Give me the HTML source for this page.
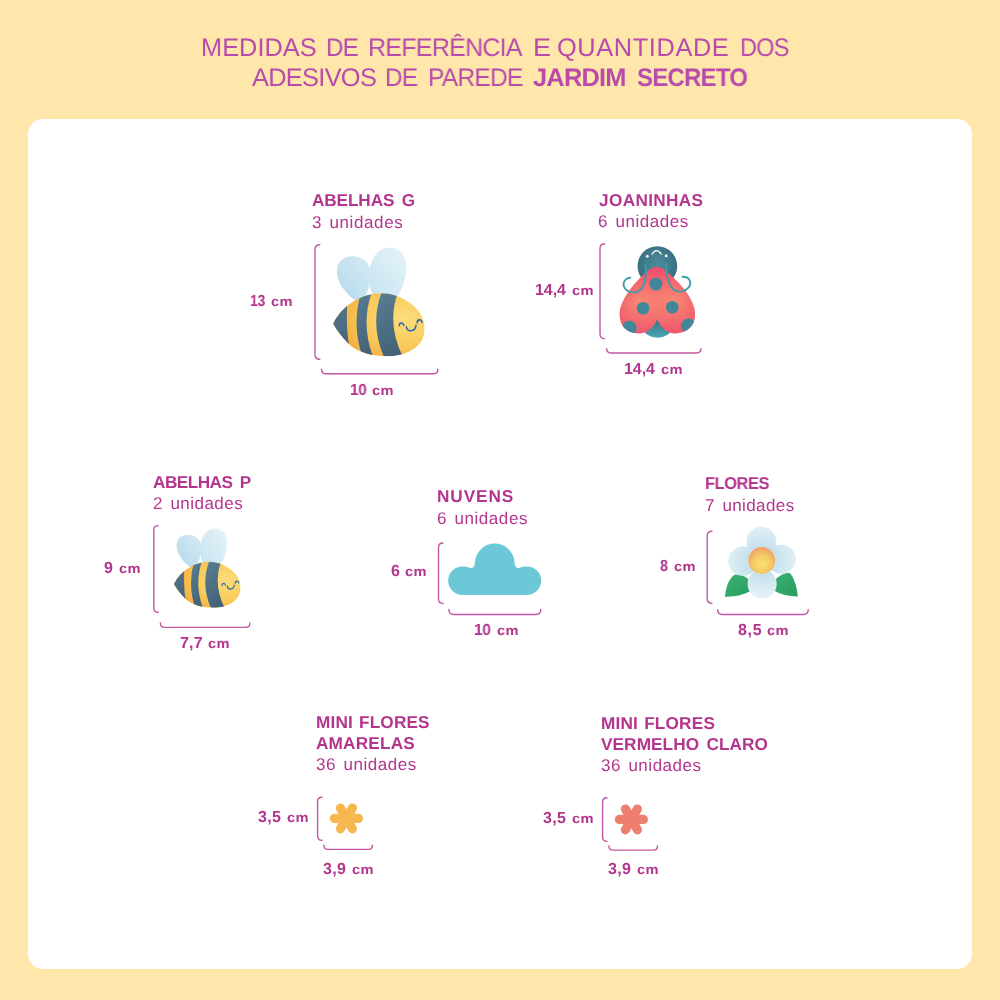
<!DOCTYPE html>
<html lang="pt-BR"><head><meta charset="utf-8"><title>Medidas de referência – Jardim Secreto</title>
<style>
html,body{margin:0;padding:0}
body{width:1000px;height:1000px;background:#FFE7AB;position:relative;overflow:hidden;font-family:"Liberation Sans",sans-serif}
.card{position:absolute;left:28px;top:119px;width:944px;height:850px;background:#fff;border-radius:15px}
.t{position:absolute;white-space:nowrap;margin:0;transform-origin:0 0;text-rendering:geometricPrecision;will-change:transform}
svg{position:absolute;overflow:visible}
</style></head><body>
<div class="card"></div>
<div class="t" style="left:201.02px;top:33.00px;font-size:25.4px;line-height:30px;font-weight:400;letter-spacing:-0.013px;word-spacing:0.000px;color:#B84BAB">MEDIDAS</div>
<div class="t" style="left:325.51px;top:33.00px;font-size:25.4px;line-height:30px;font-weight:400;letter-spacing:-0.762px;word-spacing:0.000px;transform:scaleX(0.9532);color:#B84BAB">DE</div>
<div class="t" style="left:368.04px;top:33.00px;font-size:25.4px;line-height:30px;font-weight:400;letter-spacing:-0.762px;word-spacing:0.000px;transform:scaleX(0.9859);color:#B84BAB">REFERÊNCIA</div>
<div class="t" style="left:532.69px;top:33.00px;font-size:25.4px;line-height:30px;font-weight:400;letter-spacing:0.000px;word-spacing:0.000px;transform:scaleX(1.0655);color:#B84BAB">E</div>
<div class="t" style="left:557.21px;top:33.00px;font-size:25.4px;line-height:30px;font-weight:400;letter-spacing:0.592px;word-spacing:0.000px;color:#B84BAB">QUANTIDADE</div>
<div class="t" style="left:739.66px;top:33.00px;font-size:25.4px;line-height:30px;font-weight:400;letter-spacing:-0.762px;word-spacing:0.000px;transform:scaleX(0.9254);color:#B84BAB">DOS</div>
<div class="t" style="left:251.60px;top:63.00px;font-size:25.4px;line-height:30px;font-weight:400;letter-spacing:-0.714px;word-spacing:0.000px;color:#B84BAB">ADESIVOS</div>
<div class="t" style="left:385.30px;top:63.00px;font-size:25.4px;line-height:30px;font-weight:400;letter-spacing:-0.762px;word-spacing:0.000px;transform:scaleX(0.9596);color:#B84BAB">DE</div>
<div class="t" style="left:428.08px;top:63.00px;font-size:25.4px;line-height:30px;font-weight:400;letter-spacing:-0.762px;word-spacing:0.000px;transform:scaleX(0.9655);color:#B84BAB">PAREDE</div>
<div class="t" style="left:533.40px;top:63.00px;font-size:25.4px;line-height:30px;font-weight:700;letter-spacing:-0.762px;word-spacing:0.000px;color:#B84BAB">JARDIM</div>
<div class="t" style="left:637.23px;top:63.00px;font-size:25.4px;line-height:30px;font-weight:700;letter-spacing:-0.762px;word-spacing:0.000px;transform:scaleX(0.9421);color:#B84BAB">SECRETO</div>
<div class="t" style="left:311.93px;top:190.00px;font-size:17.2px;line-height:21px;font-weight:700;letter-spacing:-0.106px;word-spacing:2.843px;color:#B3358E">ABELHAS G</div>
<div class="t" style="left:311.87px;top:213.00px;font-size:17.0px;line-height:20px;font-weight:400;letter-spacing:0.622px;word-spacing:1.981px;color:#B3358E">3 unidades</div>
<div class="t" style="left:250.12px;top:292.00px;font-size:16.0px;line-height:19px;font-weight:700;letter-spacing:-0.480px;word-spacing:0.000px;transform:scaleX(0.8795);color:#B3358E">13</div>
<div class="t" style="left:271.34px;top:294.00px;font-size:13.5px;line-height:16px;font-weight:700;letter-spacing:0.350px;word-spacing:0.000px;transform:scaleX(1.0851);color:#B3358E">cm</div>
<div class="t" style="left:349.94px;top:381.00px;font-size:16.0px;line-height:19px;font-weight:700;letter-spacing:-0.480px;word-spacing:0.000px;transform:scaleX(0.9637);color:#B3358E">10</div>
<div class="t" style="left:372.34px;top:383.00px;font-size:13.5px;line-height:16px;font-weight:700;letter-spacing:0.350px;word-spacing:0.000px;transform:scaleX(1.0851);color:#B3358E">cm</div>
<div class="t" style="left:598.80px;top:190.00px;font-size:17.2px;line-height:21px;font-weight:700;letter-spacing:0.356px;word-spacing:0.000px;color:#B3358E">JOANINHAS</div>
<div class="t" style="left:598.00px;top:212.00px;font-size:17.0px;line-height:20px;font-weight:400;letter-spacing:0.560px;word-spacing:2.105px;color:#B3358E">6 unidades</div>
<div class="t" style="left:535.00px;top:281.00px;font-size:16.0px;line-height:19px;font-weight:700;letter-spacing:-0.081px;word-spacing:0.000px;color:#B3358E">14,4</div>
<div class="t" style="left:572.34px;top:283.00px;font-size:13.5px;line-height:16px;font-weight:700;letter-spacing:0.350px;word-spacing:0.000px;transform:scaleX(1.0851);color:#B3358E">cm</div>
<div class="t" style="left:624.00px;top:360.00px;font-size:16.0px;line-height:19px;font-weight:700;letter-spacing:-0.081px;word-spacing:0.000px;color:#B3358E">14,4</div>
<div class="t" style="left:661.34px;top:362.00px;font-size:13.5px;line-height:16px;font-weight:700;letter-spacing:0.350px;word-spacing:0.000px;transform:scaleX(1.0851);color:#B3358E">cm</div>
<div class="t" style="left:153.33px;top:472.00px;font-size:17.2px;line-height:21px;font-weight:700;letter-spacing:-0.516px;word-spacing:3.125px;transform:scaleX(0.9973);color:#B3358E">ABELHAS P</div>
<div class="t" style="left:152.80px;top:494.00px;font-size:17.0px;line-height:20px;font-weight:400;letter-spacing:0.474px;word-spacing:2.277px;color:#B3358E">2 unidades</div>
<div class="t" style="left:104.01px;top:559.00px;font-size:16.0px;line-height:19px;font-weight:700;letter-spacing:0.000px;word-spacing:0.000px;transform:scaleX(0.9875);color:#B3358E">9</div>
<div class="t" style="left:118.74px;top:561.00px;font-size:13.5px;line-height:16px;font-weight:700;letter-spacing:0.350px;word-spacing:0.000px;transform:scaleX(1.0851);color:#B3358E">cm</div>
<div class="t" style="left:180.00px;top:634.00px;font-size:16.0px;line-height:19px;font-weight:700;letter-spacing:0.203px;word-spacing:0.000px;color:#B3358E">7,7</div>
<div class="t" style="left:208.34px;top:636.00px;font-size:13.5px;line-height:16px;font-weight:700;letter-spacing:0.350px;word-spacing:0.000px;transform:scaleX(1.0851);color:#B3358E">cm</div>
<div class="t" style="left:436.53px;top:486.00px;font-size:17.2px;line-height:21px;font-weight:700;letter-spacing:0.910px;word-spacing:0.000px;color:#B3358E">NUVENS</div>
<div class="t" style="left:436.80px;top:509.00px;font-size:17.0px;line-height:20px;font-weight:400;letter-spacing:0.574px;word-spacing:2.077px;color:#B3358E">6 unidades</div>
<div class="t" style="left:390.72px;top:562.00px;font-size:16.0px;line-height:19px;font-weight:700;letter-spacing:0.000px;word-spacing:0.000px;transform:scaleX(0.9625);color:#B3358E">6</div>
<div class="t" style="left:405.24px;top:564.00px;font-size:13.5px;line-height:16px;font-weight:700;letter-spacing:0.350px;word-spacing:0.000px;transform:scaleX(1.0851);color:#B3358E">cm</div>
<div class="t" style="left:474.23px;top:621.00px;font-size:16.0px;line-height:19px;font-weight:700;letter-spacing:-0.480px;word-spacing:0.000px;transform:scaleX(0.9701);color:#B3358E">10</div>
<div class="t" style="left:496.74px;top:623.00px;font-size:13.5px;line-height:16px;font-weight:700;letter-spacing:0.350px;word-spacing:0.000px;transform:scaleX(1.0851);color:#B3358E">cm</div>
<div class="t" style="left:705.17px;top:473.00px;font-size:17.2px;line-height:21px;font-weight:700;letter-spacing:-0.516px;word-spacing:0.000px;transform:scaleX(0.9597);color:#B3358E">FLORES</div>
<div class="t" style="left:705.40px;top:496.00px;font-size:17.0px;line-height:20px;font-weight:400;letter-spacing:0.389px;word-spacing:2.448px;color:#B3358E">7 unidades</div>
<div class="t" style="left:659.95px;top:557.00px;font-size:16.0px;line-height:19px;font-weight:700;letter-spacing:0.000px;word-spacing:0.000px;transform:scaleX(0.9000);color:#B3358E">8</div>
<div class="t" style="left:673.94px;top:559.00px;font-size:13.5px;line-height:16px;font-weight:700;letter-spacing:0.350px;word-spacing:0.000px;transform:scaleX(1.0851);color:#B3358E">cm</div>
<div class="t" style="left:737.60px;top:621.00px;font-size:16.0px;line-height:19px;font-weight:700;letter-spacing:0.678px;word-spacing:0.000px;color:#B3358E">8,5</div>
<div class="t" style="left:767.14px;top:623.00px;font-size:13.5px;line-height:16px;font-weight:700;letter-spacing:0.350px;word-spacing:0.000px;transform:scaleX(1.0851);color:#B3358E">cm</div>
<div class="t" style="left:315.53px;top:712.00px;font-size:17.2px;line-height:21px;font-weight:700;letter-spacing:0.157px;word-spacing:1.216px;color:#B3358E">MINI FLORES</div>
<div class="t" style="left:315.93px;top:733.00px;font-size:17.2px;line-height:21px;font-weight:700;letter-spacing:0.194px;word-spacing:0.000px;color:#B3358E">AMARELAS</div>
<div class="t" style="left:316.07px;top:755.00px;font-size:17.0px;line-height:20px;font-weight:400;letter-spacing:0.538px;word-spacing:2.150px;color:#B3358E">36 unidades</div>
<div class="t" style="left:257.85px;top:808.00px;font-size:16.0px;line-height:19px;font-weight:700;letter-spacing:0.353px;word-spacing:0.000px;color:#B3358E">3,5</div>
<div class="t" style="left:286.74px;top:810.00px;font-size:13.5px;line-height:16px;font-weight:700;letter-spacing:0.350px;word-spacing:0.000px;transform:scaleX(1.0851);color:#B3358E">cm</div>
<div class="t" style="left:323.25px;top:860.00px;font-size:16.0px;line-height:19px;font-weight:700;letter-spacing:0.353px;word-spacing:0.000px;color:#B3358E">3,9</div>
<div class="t" style="left:352.14px;top:862.00px;font-size:13.5px;line-height:16px;font-weight:700;letter-spacing:0.350px;word-spacing:0.000px;transform:scaleX(1.0851);color:#B3358E">cm</div>
<div class="t" style="left:600.52px;top:713.00px;font-size:17.2px;line-height:21px;font-weight:700;letter-spacing:0.194px;word-spacing:1.141px;color:#B3358E">MINI FLORES</div>
<div class="t" style="left:601.00px;top:734.00px;font-size:17.2px;line-height:21px;font-weight:700;letter-spacing:0.098px;word-spacing:2.410px;color:#B3358E">VERMELHO CLARO</div>
<div class="t" style="left:601.07px;top:756.00px;font-size:17.0px;line-height:20px;font-weight:400;letter-spacing:0.525px;word-spacing:2.175px;color:#B3358E">36 unidades</div>
<div class="t" style="left:542.85px;top:809.00px;font-size:16.0px;line-height:19px;font-weight:700;letter-spacing:0.353px;word-spacing:0.000px;color:#B3358E">3,5</div>
<div class="t" style="left:571.74px;top:811.00px;font-size:13.5px;line-height:16px;font-weight:700;letter-spacing:0.350px;word-spacing:0.000px;transform:scaleX(1.0851);color:#B3358E">cm</div>
<div class="t" style="left:608.25px;top:860.00px;font-size:16.0px;line-height:19px;font-weight:700;letter-spacing:0.353px;word-spacing:0.000px;color:#B3358E">3,9</div>
<div class="t" style="left:637.14px;top:862.00px;font-size:13.5px;line-height:16px;font-weight:700;letter-spacing:0.350px;word-spacing:0.000px;transform:scaleX(1.0851);color:#B3358E">cm</div>
<svg style="left:0;top:0" width="1000" height="1000" viewBox="0 0 1000 1000">
<g fill="none" stroke="#C257A3" stroke-width="1.4" stroke-linecap="round">
<path d="M319.8,244.8 Q315.0,244.8 315.0,249.6 L315.0,354.5 Q315.0,359.3 319.8,359.3"/>
<path d="M321.6,369.2 Q321.6,373.8 326.2,373.8 L433.2,373.8 Q437.8,373.8 437.8,369.2"/>
<path d="M604.6,244.0 Q600.0,244.0 600.0,248.6 L600.0,334.0 Q600.0,338.6 604.6,338.6"/>
<path d="M606.6,348.6 Q606.6,353.0 611.0,353.0 L696.6,353.0 Q701.0,353.0 701.0,348.6"/>
<path d="M158.2,525.6 Q153.8,525.6 153.8,530.0 L153.8,607.9 Q153.8,612.3 158.2,612.3"/>
<path d="M160.4,622.9 Q160.4,627.4 164.9,627.4 L245.4,627.4 Q249.9,627.4 249.9,622.9"/>
<path d="M443.0,543.0 Q438.5,543.0 438.5,547.5 L438.5,599.0 Q438.5,603.5 443.0,603.5"/>
<path d="M448.9,609.5 Q448.9,614.5 453.9,614.5 L535.8,614.5 Q540.8,614.5 540.8,609.5"/>
<path d="M712.0,531.3 Q707.2,531.3 707.2,536.1 L707.2,598.6 Q707.2,603.4 712.0,603.4"/>
<path d="M717.6,609.8 Q717.6,614.5 722.3,614.5 L803.5,614.5 Q808.2,614.5 808.2,609.8"/>
<path d="M322.0,797.3 Q317.6,797.3 317.6,801.7 L317.6,835.9 Q317.6,840.3 322.0,840.3"/>
<path d="M323.9,845.2 Q323.9,849.4 328.1,849.4 L368.3,849.4 Q372.5,849.4 372.5,845.2"/>
<path d="M607.0,797.8 Q602.6,797.8 602.6,802.2 L602.6,837.0 Q602.6,841.4 607.0,841.4"/>
<path d="M608.9,845.9 Q608.9,850.1 613.1,850.1 L653.3,850.1 Q657.5,850.1 657.5,845.9"/>
</g>
<g transform="translate(346.4,818.4)" fill="none" stroke="#F5B74E" stroke-width="9.2" stroke-linecap="round"><path transform="rotate(0)" d="M-12,0 L12,0"/><path transform="rotate(60)" d="M-12,0 L12,0"/><path transform="rotate(120)" d="M-12,0 L12,0"/></g>
<g transform="translate(631.4,819.4)" fill="none" stroke="#EE7F6E" stroke-width="9.2" stroke-linecap="round"><path transform="rotate(0)" d="M-12,0 L12,0"/><path transform="rotate(60)" d="M-12,0 L12,0"/><path transform="rotate(120)" d="M-12,0 L12,0"/></g>
</svg>
<svg style="left:325px;top:240px" width="110" height="125" viewBox="0 0 880 1000">
<defs>
<linearGradient id="wla" x1="0" y1="1" x2="1" y2="0"><stop offset="0" stop-color="#B4D9EA"/><stop offset="1" stop-color="#D6EBF4"/></linearGradient>
<linearGradient id="wra" x1="0" y1="1" x2="1" y2="0"><stop offset="0" stop-color="#C6E3EF"/><stop offset="1" stop-color="#E6F4FA"/></linearGradient>
<radialGradient id="bya" cx="0.72" cy="0.42" r="0.6"><stop offset="0" stop-color="#FBDD7C"/><stop offset="0.6" stop-color="#F9CB5C"/><stop offset="1" stop-color="#F4AE3F"/></radialGradient>
<linearGradient id="bda" x1="0" y1="0" x2="0.3" y2="1"><stop offset="0" stop-color="#5A7F94"/><stop offset="1" stop-color="#446378"/></linearGradient>
<clipPath id="bca"><path d="M65,670 C100,600 150,545 200,510 C290,445 380,425 450,425 C560,425 680,480 750,570 C800,640 810,720 780,790 C740,880 620,930 500,930 C380,930 270,900 200,840 C150,795 100,730 65,670Z"/></clipPath>
</defs>
<path fill="url(#wla)" d="M240,480 C150,420 90,320 95,240 C100,160 165,125 230,130 C300,135 360,180 366,260 C372,340 340,430 300,480Z"/>
<path fill="url(#wra)" d="M385,445 C350,380 342,280 368,190 C393,110 450,60 515,60 C600,60 656,130 650,232 C645,330 610,410 570,462Z"/>
<g clip-path="url(#bca)">
<rect x="0" y="380" width="880" height="600" fill="url(#bya)"/>
<g fill="url(#bda)">
<path d="M0,400 L190,400 Q150,670 212,950 L0,950Z"/>
<path d="M295,400 Q205,670 305,950 L390,950 Q280,670 380,400Z"/>
<path d="M460,400 Q350,670 478,950 L630,950 Q485,670 590,400Z"/>
</g>
</g>
<g fill="none" stroke="#2C6BB2" stroke-width="12.5" stroke-linecap="round">
<path d="M594,686 A18,21 0 0 1 630,684"/><path d="M738,663 A19,22 0 0 1 776,659"/><path d="M651,694 C655,736 720,741 728,683"/>
</g>
</svg>

<svg style="left:167.6px;top:523.2px" width="80.1" height="91" viewBox="0 0 880 1000">
<defs>
<linearGradient id="wlb" x1="0" y1="1" x2="1" y2="0"><stop offset="0" stop-color="#B4D9EA"/><stop offset="1" stop-color="#D6EBF4"/></linearGradient>
<linearGradient id="wrb" x1="0" y1="1" x2="1" y2="0"><stop offset="0" stop-color="#C6E3EF"/><stop offset="1" stop-color="#E6F4FA"/></linearGradient>
<radialGradient id="byb" cx="0.72" cy="0.42" r="0.6"><stop offset="0" stop-color="#FBDD7C"/><stop offset="0.6" stop-color="#F9CB5C"/><stop offset="1" stop-color="#F4AE3F"/></radialGradient>
<linearGradient id="bdb" x1="0" y1="0" x2="0.3" y2="1"><stop offset="0" stop-color="#5A7F94"/><stop offset="1" stop-color="#446378"/></linearGradient>
<clipPath id="bcb"><path d="M65,670 C100,600 150,545 200,510 C290,445 380,425 450,425 C560,425 680,480 750,570 C800,640 810,720 780,790 C740,880 620,930 500,930 C380,930 270,900 200,840 C150,795 100,730 65,670Z"/></clipPath>
</defs>
<path fill="url(#wlb)" d="M240,480 C150,420 90,320 95,240 C100,160 165,125 230,130 C300,135 360,180 366,260 C372,340 340,430 300,480Z"/>
<path fill="url(#wrb)" d="M385,445 C350,380 342,280 368,190 C393,110 450,60 515,60 C600,60 656,130 650,232 C645,330 610,410 570,462Z"/>
<g clip-path="url(#bcb)">
<rect x="0" y="380" width="880" height="600" fill="url(#byb)"/>
<g fill="url(#bdb)">
<path d="M0,400 L190,400 Q150,670 212,950 L0,950Z"/>
<path d="M295,400 Q205,670 305,950 L390,950 Q280,670 380,400Z"/>
<path d="M460,400 Q350,670 478,950 L630,950 Q485,670 590,400Z"/>
</g>
</g>
<g fill="none" stroke="#2C6BB2" stroke-width="12.5" stroke-linecap="round">
<path d="M594,686 A18,21 0 0 1 630,684"/><path d="M738,663 A19,22 0 0 1 776,659"/><path d="M651,694 C655,736 720,741 728,683"/>
</g>
</svg>

<svg style="left:610px;top:240px" width="90" height="105" viewBox="0 0 857 1000">
<defs>
<radialGradient id="lh" cx="0.5" cy="0.45" r="0.55"><stop offset="0" stop-color="#4C8B9B"/><stop offset="1" stop-color="#386F80"/></radialGradient>
<linearGradient id="la" x1="0" y1="0" x2="0" y2="1"><stop offset="0" stop-color="#357585"/><stop offset="1" stop-color="#4BA6B3"/></linearGradient>
<radialGradient id="lw1" gradientUnits="userSpaceOnUse" cx="290" cy="600" r="330"><stop offset="0" stop-color="#F68A72"/><stop offset="1" stop-color="#F68A72" stop-opacity="0"/></radialGradient>
<radialGradient id="lw2" gradientUnits="userSpaceOnUse" cx="610" cy="590" r="330"><stop offset="0" stop-color="#F68A72"/><stop offset="1" stop-color="#F68A72" stop-opacity="0"/></radialGradient>
<clipPath id="lc"><path id="lwp" d="M440,255 C480,255 520,280 560,320 C700,440 820,600 810,720 C805,830 720,890 620,890 C540,890 480,830 450,755 C420,830 360,890 270,890 C170,890 95,830 92,720 C85,600 200,440 330,320 C370,283 405,255 440,255Z"/></clipPath>
</defs>
<ellipse cx="452" cy="845" rx="130" ry="85" fill="url(#la)"/>
<circle cx="451" cy="249" r="189" fill="url(#lh)"/>
<use href="#lwp" fill="#F0506C"/>
<use href="#lwp" fill="url(#lw1)"/>
<use href="#lwp" fill="url(#lw2)"/>
<g clip-path="url(#lc)" fill="#3F8799">
<circle cx="437" cy="420" r="62"/><circle cx="315" cy="650" r="60"/><circle cx="593" cy="640" r="60"/><circle cx="185" cy="838" r="70"/><circle cx="745" cy="818" r="70"/>
</g>
<g fill="none" stroke="#3F9BAA" stroke-width="18" stroke-linecap="round">
<path d="M340,232 C345,330 345,400 300,460 C260,510 190,510 150,470 C110,430 130,365 195,358"/>
<path d="M535,228 C540,330 545,400 590,455 C635,505 700,500 740,460 C790,410 760,350 690,350"/>
</g>
<circle cx="355" cy="155" r="13" fill="#fff"/><circle cx="535" cy="152" r="13" fill="#fff"/>
<path d="M400,135 Q442,68 487,135" fill="none" stroke="#fff" stroke-width="11" stroke-linecap="round"/>
</svg>

<svg style="left:430px;top:530px" width="130" height="120" viewBox="0 0 1000 923">
<path fill="#6CC8D7" d="M250,500 A110,110 0 0 1 250,280 C275,280 292,285 306,290 C332,298 346,280 346,240 A153,153 0 0 1 650,240 C650,280 664,298 690,290 C704,285 720,280 745,280 A110,110 0 0 1 745,500Z"/>
</svg>

<svg style="left:700px;top:515px" width="120" height="130" viewBox="0 0 923 1000">
<defs>
<linearGradient id="fl" x1="0" y1="0" x2="1" y2="1"><stop offset="0" stop-color="#3BB274"/><stop offset="1" stop-color="#2A9C61"/></linearGradient>
<radialGradient id="fp" gradientUnits="userSpaceOnUse" cx="475" cy="350" r="300"><stop offset="0.3" stop-color="#C2DFEB"/><stop offset="1" stop-color="#E8F4F9"/></radialGradient>
<radialGradient id="fc" cx="0.5" cy="0.62" r="0.62"><stop offset="0" stop-color="#F9DF6E"/><stop offset="0.5" stop-color="#F6CC66"/><stop offset="1" stop-color="#F09C63"/></radialGradient>
</defs>
<path fill="url(#fl)" d="M192,628 C200,540 230,480 270,458 C330,450 400,500 420,560 C380,600 300,630 192,628Z"/>
<path fill="url(#fl)" d="M752,626 C745,540 715,470 690,447 C630,440 560,500 545,560 C580,600 660,625 752,626Z"/>
<g fill="url(#fp)">
<circle cx="330" cy="355" r="113"/><circle cx="625" cy="340" r="112"/><circle cx="478" cy="530" r="112"/><circle cx="472" cy="205" r="114"/>
</g>
<circle cx="475" cy="350" r="110" fill="#CDE9F4"/>
<circle cx="475" cy="350" r="104" fill="url(#fc)"/>
</svg>

</body></html>
